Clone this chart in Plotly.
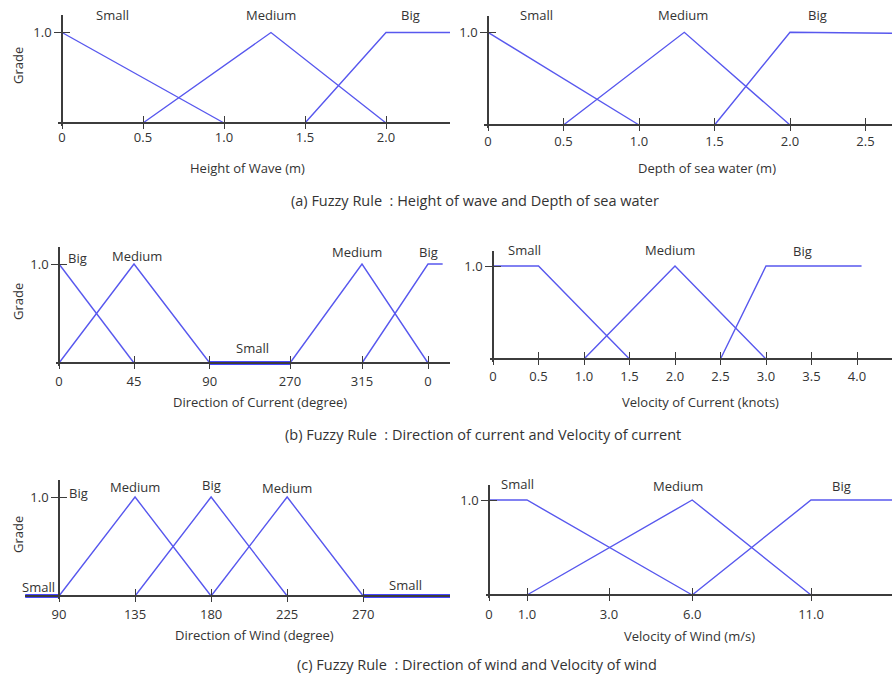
import numpy as np
import plotly.graph_objects as go

W, H = 892, 677

# ---------------- data ----------------
# (a) Height of wave (m)
hw_small_x, hw_small_y = [0.0, 1.0], [1.0, 0.0]
hw_medium_x, hw_medium_y = [0.5, 1.29, 2.0], [0.0, 1.0, 0.0]
hw_big_x, hw_big_y = [1.5, 2.0, 2.4], [0.0, 1.0, 1.0]
hw_ticks = [0, 0.5, 1.0, 1.5, 2.0]
hw_ticktext = ["0", "0.5", "1.0", "1.5", "2.0"]

# (a) Depth of sea water (m)
ds_small_x, ds_small_y = [0.0, 1.0], [1.0, 0.0]
ds_medium_x, ds_medium_y = [0.5, 1.3, 2.0], [0.0, 1.0, 0.0]
ds_big_x, ds_big_y = [1.5, 2.0, 2.7], [0.0, 1.0, 0.99]
ds_ticks = [0, 0.5, 1.0, 1.5, 2.0, 2.5]
ds_ticktext = ["0", "0.5", "1.0", "1.5", "2.0", "2.5"]

# (b) Direction of current (degree, unwrapped past 360)
dc_big1_x, dc_big1_y = [0, 45], [1.0, 0.0]
dc_med1_x, dc_med1_y = [0, 45, 90], [0.0, 1.0, 0.0]
dc_small_x, dc_small_y = [90, 270], [0.0, 0.0]
dc_med2_x, dc_med2_y = [270, 315, 360], [0.0, 1.0, 0.0]
dc_big2_x, dc_big2_y = [315, 360, 370], [0.0, 1.0, 1.0]
dc_tick_deg = [0, 45, 90, 270, 315, 360]
dc_ticktext = ["0", "45", "90", "270", "315", "0"]
dc_tick_pos = [0, 1, 2.01, 3.08, 4.04, 4.92]   # drawn spacing of the broken axis

# (b) Velocity of current (knots)
vc_small_x, vc_small_y = [0.0, 0.5, 1.5], [1.0, 1.0, 0.0]
vc_med_x, vc_med_y = [1.0, 2.0, 3.0], [0.0, 1.0, 0.0]
vc_big_x, vc_big_y = [2.5, 3.0, 4.05], [0.0, 1.0, 1.0]
vc_ticks = [0, 0.5, 1.0, 1.5, 2.0, 2.5, 3.0, 3.5, 4.0]
vc_ticktext = ["0", "0.5", "1.0", "1.5", "2.0", "2.5", "3.0", "3.5", "4.0"]

# (c) Direction of wind (degree)
dw_small1_x, dw_small1_y = [70, 90], [0.0, 0.0]
dw_med1_x, dw_med1_y = [90, 135, 180], [0.0, 1.0, 0.0]
dw_big_x, dw_big_y = [135, 180, 225], [0.0, 1.0, 0.0]
dw_med2_x, dw_med2_y = [180, 225, 270], [0.0, 1.0, 0.0]
dw_small2_x, dw_small2_y = [270, 323], [0.0, 0.0]
dw_ticks = [90, 135, 180, 225, 270]
dw_ticktext = ["90", "135", "180", "225", "270"]

# (c) Velocity of wind (m/s)
vw_small_x, vw_small_y = [0.0, 1.0, 6.0], [1.0, 1.0, 0.0]
vw_med_x, vw_med_y = [1.0, 6.0, 11.0], [0.0, 1.0, 0.0]
vw_big_x, vw_big_y = [6.0, 11.0, 14.5], [0.0, 1.0, 1.0]
vw_tick_ms = [0, 1.0, 3.0, 6.0, 11.0]
vw_ticktext = ["0", "1.0", "3.0", "6.0", "11.0"]
vw_tick_pos = [0, 0.95, 3.0, 5.08, 8.05]       # drawn spacing of the broken axis


def broken(vals, ticks, pos):
    v = np.asarray(vals, float)
    t = np.asarray(ticks, float)
    p = np.asarray(pos, float)
    out = np.interp(v, t, p)
    hi = v > t[-1]
    out[hi] = p[-1] + (v[hi] - t[-1]) * (p[-1] - p[-2]) / (t[-1] - t[-2])
    lo = v < t[0]
    out[lo] = p[0] + (v[lo] - t[0]) * (p[1] - p[0]) / (t[1] - t[0])
    return out.tolist()


dc = lambda v: broken(v, dc_tick_deg, dc_tick_pos)
vw = lambda v: broken(v, vw_tick_ms, vw_tick_pos)
dc1 = lambda v: dc([v])[0]
vw1 = lambda v: vw([v])[0]

BLUE = "#5858ee"
THICK = "#0a0aff"
AX = "#3c3c3c"
TXT = "#333333"
FONT = "Open Sans"
FS = 13

fig = go.Figure()

# panel geometry (pixels)
panels = [
    dict(xo=0, xo_px=62, xu=162, xl=58, xr=450, yb=123, yu=90.5, yt=15,
         tv=hw_ticks, tt=hw_ticktext, so=3),
    dict(xo=0, xo_px=488, xu=151, xl=484, xr=892, yb=125, yu=92.7, yt=16,
         tv=ds_ticks, tt=ds_ticktext, so=5),
    dict(xo=0, xo_px=59, xu=75, xl=56, xr=450, yb=363, yu=99, yt=247,
         tv=dc(dc_tick_deg), tt=dc_ticktext, so=7),
    dict(xo=0, xo_px=493, xu=91, xl=490, xr=892, yb=359, yu=93, yt=251,
         tv=vc_ticks, tt=vc_ticktext, so=6),
    dict(xo=90, xo_px=59, xu=1.69, xl=25, xr=450, yb=596, yu=99, yt=480,
         tv=dw_ticks, tt=dw_ticktext, so=7),
    dict(xo=0, xo_px=489, xu=40, xl=486, xr=892, yb=595, yu=95, yt=485,
         tv=vw(vw_tick_ms), tt=vw_ticktext, so=8),
]

for i, p in enumerate(panels, start=1):
    xa = "xaxis" if i == 1 else f"xaxis{i}"
    ya = "yaxis" if i == 1 else f"yaxis{i}"
    xr = [p["xo"] + (p["xl"] - p["xo_px"]) / p["xu"], p["xo"] + (p["xr"] - p["xo_px"]) / p["xu"]]
    yr = [-2.5 / p["yu"], (p["yb"] - p["yt"]) / p["yu"]]
    fig.layout[xa] = dict(
        domain=[p["xl"] / W, min(p["xr"] / W, 1)], range=xr, anchor="free",
        position=1 - p["yb"] / H, showline=True, linecolor=AX, linewidth=1.5,
        ticks="inside", ticklen=6, tickwidth=1.3, tickcolor=AX,
        tickmode="array", tickvals=p["tv"], ticktext=p["tt"],
        ticklabelstandoff=p["so"],
        minor=dict(ticks="outside", ticklen=5, tickwidth=1.3, tickcolor=AX,
                   tickmode="array", tickvals=p["tv"]),
        showgrid=False, zeroline=False, fixedrange=True,
        tickfont=dict(family=FONT, size=FS, color=TXT),
    )
    fig.layout[ya] = dict(
        domain=[1 - (p["yb"] + 2.5) / H, 1 - p["yt"] / H], range=yr, anchor="free",
        position=p["xo_px"] / W, showline=True, linecolor=AX, linewidth=1.5,
        ticks="outside", ticklen=7, tickwidth=1.3, tickcolor=AX,
        tickmode="array", tickvals=[1.0], ticktext=["1.0"],
        minor=dict(ticks="inside", ticklen=7, tickwidth=1.3, tickcolor=AX,
                   tickmode="array", tickvals=[1.0]),
        showgrid=False, zeroline=False, fixedrange=True,
        tickfont=dict(family=FONT, size=FS, color=TXT),
    )


def line(n, x, y, thick=False):
    fig.add_trace(go.Scatter(
        x=x, y=y, mode="lines", xaxis="x" if n == 1 else f"x{n}",
        yaxis="y" if n == 1 else f"y{n}", showlegend=False, hoverinfo="skip",
        line=dict(color=THICK if thick else BLUE, width=3.5 if thick else 1.4)))


line(1, hw_small_x, hw_small_y); line(1, hw_medium_x, hw_medium_y); line(1, hw_big_x, hw_big_y)
line(2, ds_small_x, ds_small_y); line(2, ds_medium_x, ds_medium_y); line(2, ds_big_x, ds_big_y)
line(3, dc(dc_big1_x), dc_big1_y); line(3, dc(dc_med1_x), dc_med1_y)
line(3, dc(dc_small_x), dc_small_y, thick=True)
line(3, dc(dc_med2_x), dc_med2_y); line(3, dc(dc_big2_x), dc_big2_y)
line(4, vc_small_x, vc_small_y); line(4, vc_med_x, vc_med_y); line(4, vc_big_x, vc_big_y)
line(5, dw_small1_x, dw_small1_y, thick=True); line(5, dw_med1_x, dw_med1_y)
line(5, dw_big_x, dw_big_y); line(5, dw_med2_x, dw_med2_y)
line(5, dw_small2_x, dw_small2_y, thick=True)
line(6, vw(vw_small_x), vw_small_y); line(6, vw(vw_med_x), vw_med_y); line(6, vw(vw_big_x), vw_big_y)

ann = []


def lab(n, x, ypx, text):
    ann.append(dict(x=x, y=1 - ypx / H, xref="x" if n == 1 else f"x{n}", yref="paper",
                    text=text, showarrow=False, xanchor="center", yanchor="middle",
                    font=dict(family=FONT, size=FS, color=TXT)))


lab(1, 0.31, 15, "Small"); lab(1, 1.29, 15, "Medium"); lab(1, 2.15, 15, "Big")
lab(2, 0.32, 15, "Small"); lab(2, 1.29, 15, "Medium"); lab(2, 2.18, 15, "Big")
lab(3, dc1(11), 258, "Big"); lab(3, dc1(47), 256, "Medium")
lab(3, dc1(185), 348, "Small"); lab(3, dc1(312), 252, "Medium")
lab(3, dc1(360), 252, "Big")
lab(4, 0.35, 250, "Small"); lab(4, 1.95, 250, "Medium"); lab(4, 3.40, 251, "Big")
lab(5, 101.5, 493, "Big"); lab(5, 135, 487, "Medium"); lab(5, 180, 485, "Big")
lab(5, 225, 488, "Medium"); lab(5, 78, 587, "Small"); lab(5, 295, 585, "Small")
lab(6, vw1(0.74), 484, "Small"); lab(6, vw1(5.5), 486, "Medium"); lab(6, vw1(12.3), 486, "Big")


def ptext(xpx, ypx, text, size=FS, angle=0):
    ann.append(dict(x=xpx / W, y=1 - ypx / H, xref="paper", yref="paper", text=text,
                    showarrow=False, textangle=angle, xanchor="center", yanchor="middle",
                    font=dict(family=FONT, size=size, color=TXT)))


for gy in (66, 302, 535):
    ptext(18, gy, "Grade", angle=-90)

ptext(247, 168, "Height of Wave (m)")
ptext(707, 168, "Depth of sea water (m)")
ptext(260, 402, "Direction of Current (degree)")
ptext(700, 402, "Velocity of Current (knots)")
ptext(254, 635, "Direction of Wind (degree)")
ptext(689, 636, "Velocity of Wind (m/s)")
ptext(475, 200, "(a) Fuzzy Rule&nbsp;&nbsp;: Height of wave and Depth of sea water", size=14.5)
ptext(483, 434, "(b) Fuzzy Rule&nbsp;&nbsp;: Direction of current and Velocity of current", size=14.5)
ptext(477, 664, "(c) Fuzzy Rule&nbsp;&nbsp;: Direction of wind and Velocity of wind", size=14.5)

fig.update_layout(width=W, height=H, margin=dict(l=0, r=0, t=0, b=0),
                  paper_bgcolor="white", plot_bgcolor="white", annotations=ann,
                  font=dict(family=FONT, size=FS, color=TXT))

fig.write_html("out.html", config={"displayModeBar": False},
               post_script="document.body.style.margin='0';document.body.style.padding='0';")
